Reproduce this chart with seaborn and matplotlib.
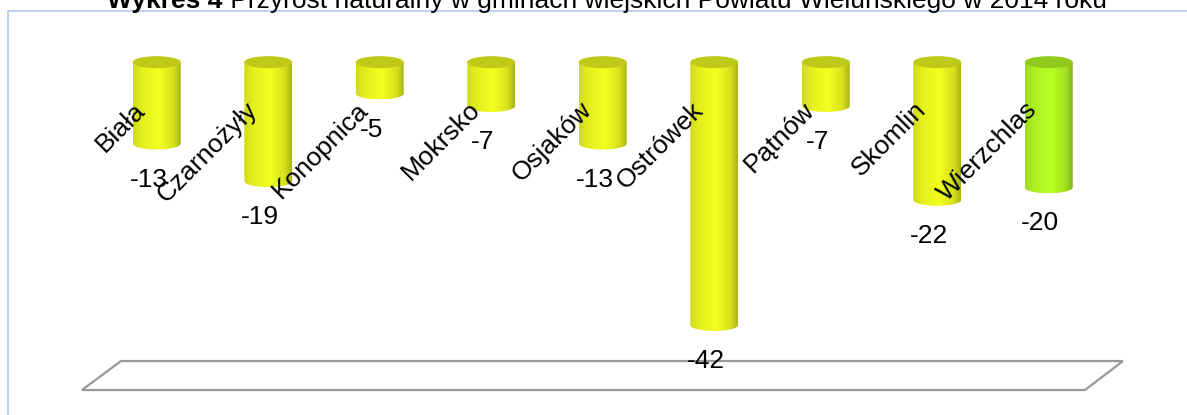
import numpy as np
import pandas as pd
import seaborn as sns
import matplotlib.pyplot as plt
from matplotlib.path import Path
from matplotlib.patches import PathPatch, Ellipse, Polygon, Rectangle
from matplotlib.colors import LinearSegmentedColormap

# dane: przyrost naturalny 2014
gminy = ['Biała', 'Czarnożyły', 'Konopnica', 'Mokrsko', 'Osjaków',
         'Ostrówek', 'Pątnów', 'Skomlin', 'Wierzchlas']
przyrost = [-13, -19, -5, -7, -13, -42, -7, -22, -20]
kolory = ['#f2ff1f'] * 8 + ['#b8ff24']

TITLE_BOLD = 'Wykres 4'
TITLE_REST = ' Przyrost naturalny w gminach wiejskich Powiatu Wieluńskiego w 2014 roku'

W, H = 1187, 415
ELL_H = 1.92  # wysokosc elipsy (jednostki danych)

sns.set_style('white')
plt.rcParams['font.family'] = ['Liberation Sans', 'DejaVu Sans']
plt.rcParams['text.color'] = 'black'


def shade(rgb, f):
    return tuple(np.clip(np.array(rgb[:3]) * f, 0, 1))


fig = plt.figure(figsize=(W / 100, H / 100), dpi=100)
ax = fig.add_axes([0.0851, 0.0602, 0.8454, 0.790])

df = pd.DataFrame({'gmina': gminy, 'przyrost': przyrost})
sns.barplot(data=df, x='gmina', y='przyrost', hue='gmina', palette=kolory,
            saturation=1, width=0.43, legend=False, ax=ax)

# cylindry zamiast plaskich slupkow
grad = np.linspace(0, 1, 256).reshape(1, -1)
for bar in list(ax.patches):
    base = bar.get_facecolor()
    x0, w, h = bar.get_x(), bar.get_width(), bar.get_height()
    cx = x0 + w / 2
    bar.set_visible(False)
    cmap = LinearSegmentedColormap.from_list('cyl', [
        (0.0, shade(base, 0.86)), (0.2, shade(base, 0.94)),
        (0.55, shade(base, 1.0)), (0.85, shade(base, 0.88)),
        (1.0, shade(base, 0.7))])
    t = np.linspace(0, np.pi, 60)
    verts = [(x0, 0), (x0 + w, 0)]
    verts += list(zip(cx + w / 2 * np.cos(t), h - ELL_H / 2 * np.sin(t)))
    verts += [(x0, 0)]
    clip = PathPatch(Path(np.array(verts)), transform=ax.transData,
                     facecolor='none', edgecolor='none')
    ax.add_patch(clip)
    im = ax.imshow(grad, cmap=cmap, extent=(x0, x0 + w, h - ELL_H / 2, 0),
                   aspect='auto', origin='lower', zorder=2)
    im.set_clip_path(clip)
    ax.add_patch(Ellipse((cx, 0), w, ELL_H, facecolor=shade(base, 0.79),
                         edgecolor='none', zorder=3, clip_on=False))

# etykiety
for i, (g, v) in enumerate(zip(gminy, przyrost)):
    ax.text(i - 0.09, -7.8, g, rotation=45, rotation_mode='anchor',
            ha='right', va='baseline', fontsize=19, color='black', zorder=5)
    ax.annotate(f'{v}', (i, v), xytext=(-6, -26), textcoords='offset points',
                ha='center', va='center', fontsize=19, color='black', zorder=5)

# podloga wykresu 3D
ax.add_patch(Polygon([(-0.019, 0), (0.9806, 0), (1.0184, 0.0884), (0.0199, 0.0884)],
                     closed=True, facecolor='white', edgecolor='#999999', lw=1.6,
                     transform=ax.transAxes, clip_on=False, zorder=1))

ax.set_xlim(-0.5, 8.5)
ax.set_ylim(-52.4, 0)
ax.axis('off')

# ramka
fig.add_artist(Rectangle((8 / W, -0.1), 1.1, 0.9735 + 0.1, transform=fig.transFigure,
                         fill=False, edgecolor='#b3cbe9', lw=1.2))

# tytul: pogrubiony poczatek
r = fig.canvas.get_renderer()
t1 = fig.text(0, 1 - 8 / H, TITLE_BOLD, fontweight='bold', fontsize=19,
              va='baseline', color='black')
t2 = fig.text(0, 1 - 8 / H, TITLE_REST, fontsize=19, va='baseline', color='black')
w1 = t1.get_window_extent(r).width
w2 = t2.get_window_extent(r).width
start = 607 - (w1 + w2) / 2
t1.set_x(start / W)
t2.set_x((start + w1) / W)

fig.savefig('out.png', dpi=100)
